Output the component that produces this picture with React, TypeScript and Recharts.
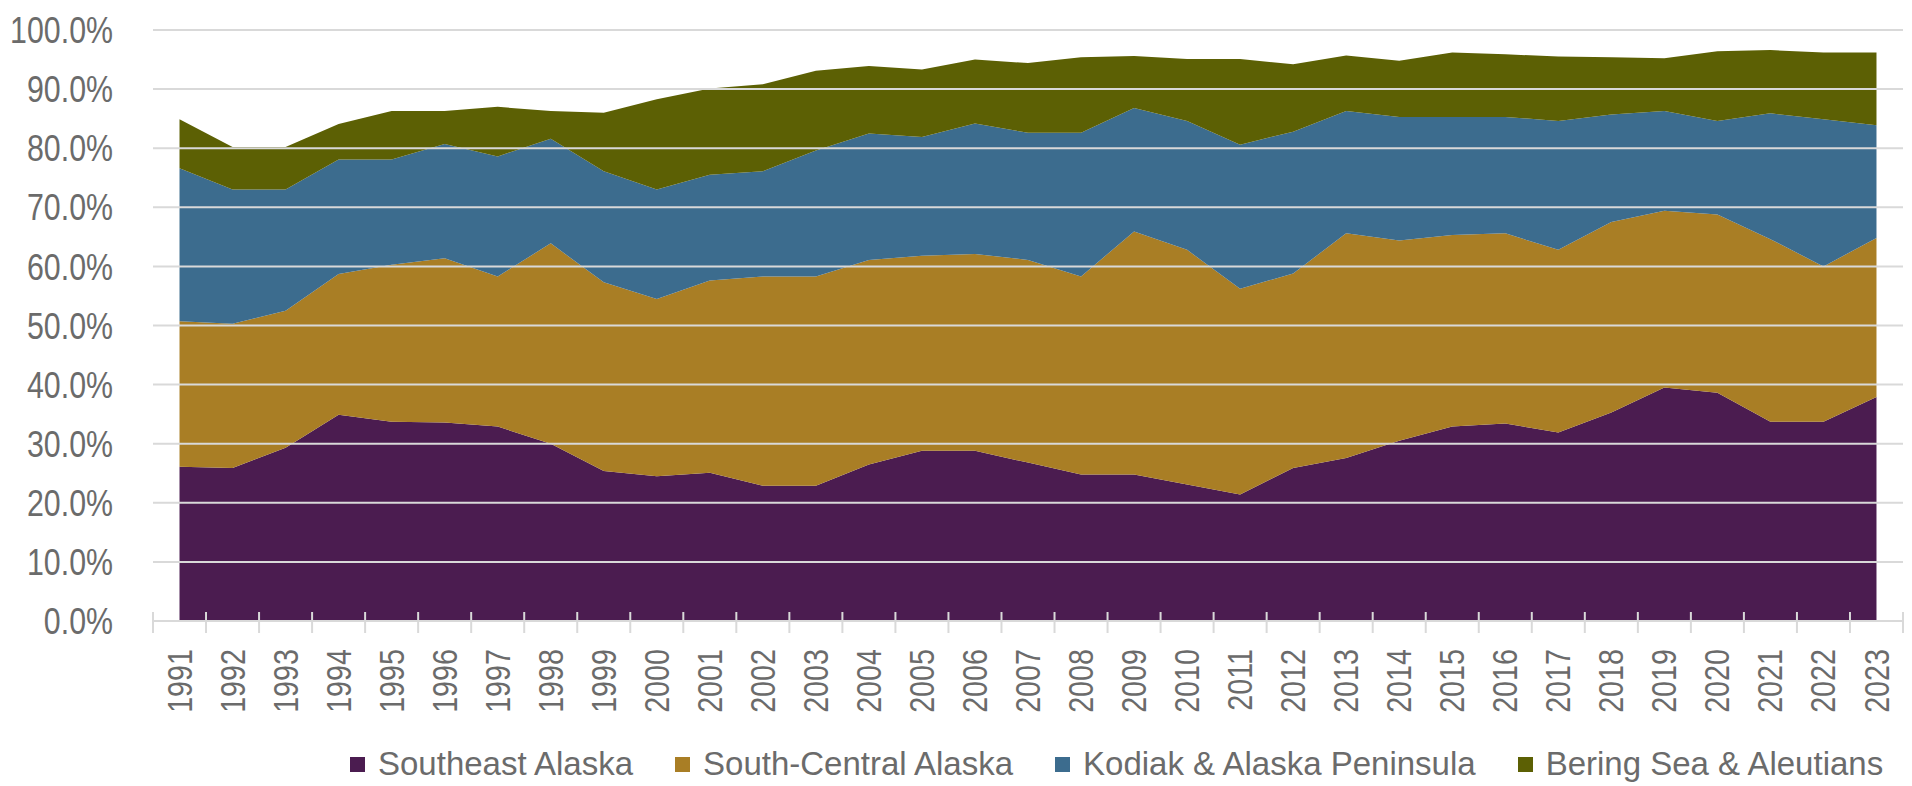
import React from 'react';
import { AreaChart, Area, XAxis, YAxis, ReferenceLine, Legend } from 'recharts';

const years = [1991, 1992, 1993, 1994, 1995, 1996, 1997, 1998, 1999, 2000, 2001, 2002, 2003, 2004, 2005, 2006, 2007, 2008, 2009, 2010, 2011, 2012, 2013, 2014, 2015, 2016, 2017, 2018, 2019, 2020, 2021, 2022, 2023];

const southeast = [26.1, 25.9, 29.3, 34.9, 33.7, 33.6, 32.9, 30.0, 25.4, 24.5, 25.1, 22.9, 22.9, 26.5, 28.8, 28.8, 26.8, 24.8, 24.8, 23.1, 21.4, 25.9, 27.6, 30.5, 32.9, 33.4, 31.9, 35.3, 39.5, 38.6, 33.7, 33.7, 37.9];
const southCentral = [24.6, 24.4, 23.2, 23.8, 26.6, 27.8, 25.4, 33.9, 31.9, 30.0, 32.5, 35.4, 35.4, 34.6, 33.0, 33.3, 34.3, 33.5, 41.1, 39.7, 34.8, 32.9, 38.0, 33.9, 32.4, 32.2, 30.9, 32.2, 29.9, 30.2, 30.9, 26.3, 26.9];
const kodiak = [25.9, 22.7, 20.5, 19.4, 17.8, 19.3, 20.3, 17.7, 18.8, 18.5, 17.9, 17.8, 21.3, 21.4, 20.1, 22.1, 21.5, 24.3, 20.9, 21.8, 24.4, 24.0, 20.7, 20.9, 20.0, 19.7, 21.8, 18.2, 16.9, 15.8, 21.3, 24.9, 19.1];
const bering = [8.3, 7.2, 7.2, 6.0, 8.2, 5.6, 8.4, 4.7, 9.9, 15.3, 14.6, 14.7, 13.5, 11.4, 11.4, 10.8, 11.8, 12.8, 8.8, 10.5, 14.5, 11.4, 9.4, 9.5, 10.9, 10.6, 10.9, 9.7, 8.9, 11.8, 10.7, 11.3, 12.3];

const yTicks = [0, 10, 20, 30, 40, 50, 60, 70, 80, 90, 100];

const seriesKeys = ['southeast', 'southCentral', 'kodiak', 'bering'];
const seriesNames = ['Southeast Alaska', 'South-Central Alaska', 'Kodiak & Alaska Peninsula', 'Bering Sea & Aleutians'];
const seriesColors = ['#4B1C50', '#A97E25', '#3C6C8E', '#5C6004'];

const data = years.map((year, i) => ({
  year,
  southeast: southeast[i],
  southCentral: southCentral[i],
  kodiak: kodiak[i],
  bering: bering[i],
}));

const FONT = "'Liberation Sans', Arial, sans-serif";
const TEXT = '#6b6b6b';
const GRID = '#d9d9d9';

function YTick(props: any) {
  const { x, y, payload } = props;
  return (
    <text
      x={0}
      y={0}
      transform={`translate(${x},${y}) scale(0.82,1)`}
      textAnchor="end"
      dominantBaseline="central"
      fontFamily={FONT}
      fontSize={37}
      fill={TEXT}
    >
      {`${Number(payload.value).toFixed(1)}%`}
    </text>
  );
}

function XTick(props: any) {
  const { x, y, payload, index, width } = props;
  const step = (width || 1750) / years.length;
  return (
    <g>
      {index === 0 && (
        <line x1={x - step / 2} x2={x - step / 2} y1={y - 9} y2={y + 12} stroke={GRID} strokeWidth={2} />
      )}
      <line x1={x + step / 2} x2={x + step / 2} y1={y - 9} y2={y + 12} stroke={GRID} strokeWidth={2} />
      <text
        x={0}
        y={0}
        transform={`translate(${x},${y + 28}) rotate(-90) scale(0.82,1)`}
        textAnchor="end"
        dominantBaseline="central"
        fontFamily={FONT}
        fontSize={35}
        fill={TEXT}
      >
        {payload.value}
      </text>
    </g>
  );
}

function LegendContent() {
  return (
    <div style={{ display: 'flex', alignItems: 'center', fontFamily: FONT, fontSize: 33, color: TEXT, lineHeight: '34px', whiteSpace: 'nowrap' }}>
      {seriesNames.map((name, i) => (
        <div key={name} style={{ display: 'flex', alignItems: 'center', marginRight: 42 }}>
          <span style={{ display: 'inline-block', width: 15, height: 15, background: seriesColors[i], marginRight: 13 }} />
          <span>{name}</span>
        </div>
      ))}
    </div>
  );
}

export default function App() {
  return (
    <div style={{ position: 'absolute', left: 0, top: 0, width: 1912, height: 786, background: '#fff' }}>
      <AreaChart width={1912} height={786} data={data} margin={{ top: 30, right: 9, left: 0, bottom: 0 }}>
        <XAxis
          dataKey="year"
          type="number"
          domain={[1990.5, 2023.5]}
          ticks={years}
          interval={0}
          height={165}
          tickSize={0}
          tickMargin={0}
          tickLine={false}
          axisLine={{ stroke: GRID, strokeWidth: 2 }}
          tick={<XTick />}
        />
        <YAxis
          type="number"
          domain={[0, 100]}
          ticks={yTicks}
          interval={0}
          width={153}
          tickSize={0}
          tickMargin={40}
          axisLine={false}
          tickLine={false}
          tick={<YTick />}
        />
        {seriesKeys.map((k, i) => (
          <Area
            key={k}
            dataKey={k}
            name={seriesNames[i]}
            stackId="a"
            type="linear"
            stroke="none"
            fill={seriesColors[i]}
            fillOpacity={1}
            isAnimationActive={false}
            dot={false}
            activeDot={false}
          />
        ))}
        {yTicks.filter((v) => v > 0).map((v) => (
          <ReferenceLine key={v} y={v} stroke={GRID} strokeWidth={2} />
        ))}
        <Legend
          verticalAlign="middle"
          align="center"
          wrapperStyle={{ top: 747, left: 350, width: 1560, height: 34 }}
          content={() => <LegendContent />}
        />
      </AreaChart>
    </div>
  );
}
